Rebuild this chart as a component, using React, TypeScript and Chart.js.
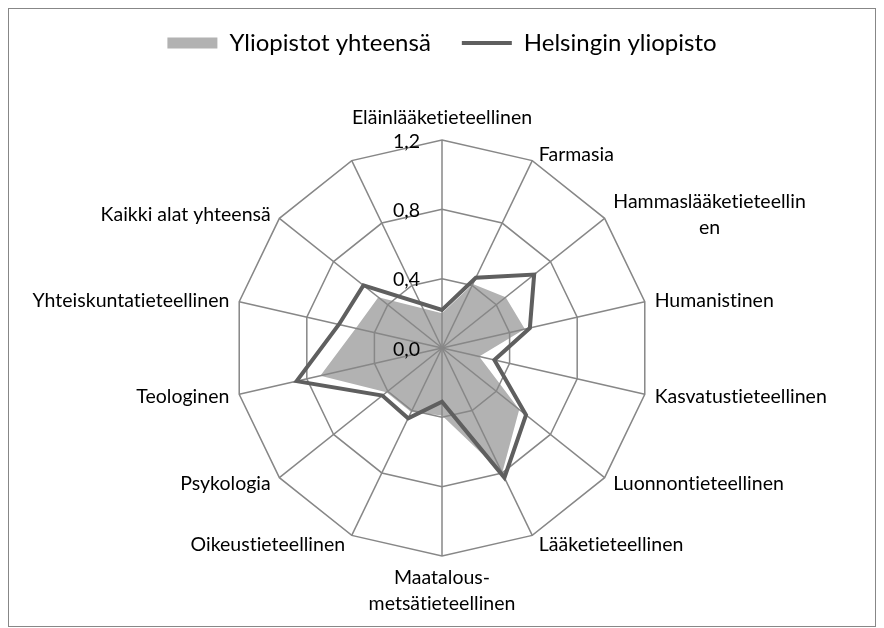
import React, { useEffect, useRef } from 'react';
import { Chart, registerables } from 'chart.js';

Chart.register(...registerables);

// ---- data ----
const categories: (string | string[])[] = [
  'Eläinlääketieteellinen',
  'Farmasia',
  ['Hammaslääketieteellin', 'en'],
  'Humanistinen',
  'Kasvatustieteellinen',
  'Luonnontieteellinen',
  'Lääketieteellinen',
  ['Maatalous-', 'metsätieteellinen'],
  'Oikeustieteellinen',
  'Psykologia',
  'Teologinen',
  'Yhteiskuntatieteellinen',
  'Kaikki alat yhteensä',
  '',
];
const yliopistotYhteensa: (number | null)[] = [0.2, 0.41, 0.47, 0.49, 0.22, 0.57, 0.8, 0.39, 0.41, 0.41, 0.72, 0.51, 0.47, null];
const helsinginYliopisto: (number | null)[] = [0.22, 0.45, 0.68, 0.52, 0.31, 0.62, 0.83, 0.31, 0.45, 0.44, 0.86, 0.61, 0.58, null];
const seriesNames = ['Yliopistot yhteensä', 'Helsingin yliopisto'];
const tickValues = [0, 0.4, 0.8, 1.2];
const tickLabels = ['0,0', '0,4', '0,8', '1,2'];

// ---- styles ----
const FONT = 'Lato, "Open Sans", sans-serif';
const GRAY = '#b2b2b2';
const DARK = '#5f5f5f';
const GRID = '#878787';
const LABEL_SIZE = 19.5;
const LINE_H = 26;

const excelLabels = {
  id: 'excelLabels',
  afterDraw(chart: any) {
    const scale = chart.scales.r;
    const ctx = chart.ctx as any;
    ctx.save();
    ctx.fillStyle = '#000';
    ctx.font = `${LABEL_SIZE}px ${FONT}`;
    try {
      ctx.letterSpacing = '0.01px';
    } catch (e) {
      /* ignore */
    }
    const labels = chart.data.labels as (string | string[])[];
    labels.forEach((lab, i) => {
      const lines = Array.isArray(lab) ? lab : [lab];
      if (!lines.join('')) return;
      const ang = scale.getIndexAngle(i);
      const s = Math.sin(ang);
      const c = Math.cos(ang);
      const p = scale.getPointPosition(i, scale.drawingArea);
      const blockW = Math.max(...lines.map((l: string) => ctx.measureText(l).width));
      ctx.textAlign = 'center';
      if (Math.abs(s) < 0.05) {
        if (c > 0) {
          ctx.textBaseline = 'alphabetic';
          const m = lines.length;
          lines.forEach((l: string, k: number) => ctx.fillText(l, p.x, p.y - 16 - (m - 1 - k) * LINE_H));
        } else {
          ctx.textBaseline = 'middle';
          lines.forEach((l: string, k: number) => ctx.fillText(l, p.x, p.y + 22 + k * LINE_H));
        }
        return;
      }
      const gap = 4 + 6 * Math.abs(s);
      const cx = s > 0 ? p.x + gap + blockW / 2 : p.x - gap - blockW / 2;
      const cy = p.y - (c > 0 ? 6 : 10) * c;
      ctx.textBaseline = 'middle';
      const m = lines.length;
      lines.forEach((l: string, k: number) => ctx.fillText(l, cx, cy + (k - (m - 1) / 2) * LINE_H));
    });
    // tick labels
    ctx.textAlign = 'right';
    ctx.textBaseline = 'middle';
    tickValues.forEach((v, k) => {
      const pt = scale.getPointPositionForValue(0, v);
      ctx.fillText(tickLabels[k], pt.x - 22, pt.y + 1.5);
    });
    ctx.restore();
  },
};

export default function App() {
  const ref = useRef<HTMLCanvasElement>(null);
  useEffect(() => {
    Chart.defaults.font.family = FONT;
    const chart = new Chart(ref.current as HTMLCanvasElement, {
      type: 'radar',
      data: {
        labels: categories as any,
        datasets: [
          {
            label: seriesNames[0],
            data: yliopistotYhteensa,
            backgroundColor: GRAY,
            borderColor: GRAY,
            borderWidth: 0,
            fill: 'origin',
            pointRadius: 0,
            spanGaps: true,
            order: 2,
          },
          {
            label: seriesNames[1],
            data: helsinginYliopisto,
            borderColor: DARK,
            backgroundColor: DARK,
            borderWidth: 4,
            borderJoinStyle: 'miter',
            fill: false,
            pointRadius: 0,
            spanGaps: true,
            order: 1,
          },
        ] as any,
      },
      options: {
        responsive: false,
        animation: false,
        layout: { padding: { top: -9, bottom: 69, left: 0, right: 0 } },
        plugins: {
          filler: { drawTime: 'beforeDraw' } as any,
          tooltip: { enabled: false },
          // empty spacer between legend and radar
          title: {
            display: true,
            text: '',
            position: 'top',
            weight: 500,
            font: { size: 10, lineHeight: 1 },
            padding: { top: 65, bottom: 0 },
          } as any,
          legend: {
            position: 'top',
            labels: {
              usePointStyle: true,
              pointStyleWidth: 50,
              boxHeight: 11,
              padding: 31,
              color: '#000',
              font: { family: FONT, size: 24 },
              generateLabels: (ch: any) =>
                ch.data.datasets.map((ds: any, i: number) => ({
                  text: ds.label,
                  fillStyle: i === 0 ? GRAY : 'rgba(0,0,0,0)',
                  strokeStyle: i === 0 ? GRAY : DARK,
                  lineWidth: i === 0 ? 0 : 4,
                  pointStyle: i === 0 ? 'rect' : 'line',
                  hidden: false,
                  datasetIndex: i,
                  fontColor: '#000',
                })),
            },
          },
        },
        scales: {
          r: {
            min: 0,
            max: 1.2,
            startAngle: 0,
            ticks: { stepSize: 0.4, display: false },
            pointLabels: { display: false },
            grid: { color: GRID, lineWidth: 1.5 },
            angleLines: { color: GRID, lineWidth: 1.5 },
          },
        },
      },
      plugins: [excelLabels],
    });
    return () => chart.destroy();
  }, []);
  return (
    <div
      style={{
        width: 868,
        height: 619,
        border: '1px solid #878787',
        boxSizing: 'border-box',
        background: '#fff',
      }}
    >
      <canvas ref={ref} width={866} height={617} style={{ display: 'block' }} />
    </div>
  );
}
